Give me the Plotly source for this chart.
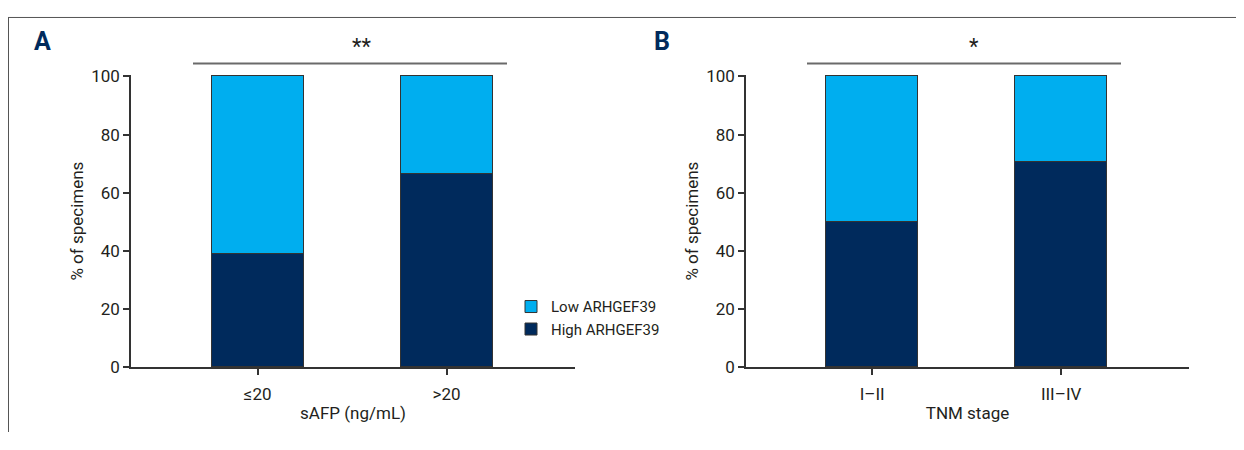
import plotly.graph_objects as go

cats_a = ["≤20", ">20"]
high_a = [39, 66.4]
low_a = [61, 33.6]

cats_b = ["I–II", "III–IV"]
high_b = [50.1, 70.6]
low_b = [49.9, 29.4]

y_ticks = [0, 20, 40, 60, 80, 100]
series_names = ["High ARHGEF39", "Low ARHGEF39"]
sig_a = "**"
sig_b = "*"

LIGHT = "#00AEEF"
DARK = "#002A5C"
EDGE = "#333333"
TXT = "#231F20"
FONT = "Liberation Sans Narrow, Arial Narrow, Roboto, sans-serif"

OFF = 8
W, H = 1244 - 2 * OFF, 450 - 2 * OFF
# measured mapping of figure pixels to the photographed picture
Y0, YS = 15.5, 0.957


def px(x):
    return (x - OFF) / W


def py(y):
    return 1 - ((y - Y0) / YS) / H


fig = go.Figure()

fig.add_trace(go.Bar(x=cats_a, y=high_a, name=series_names[0],
                     marker=dict(color=DARK, line=dict(color=EDGE, width=1)),
                     width=0.487, xaxis="x", yaxis="y"))
fig.add_trace(go.Bar(x=cats_a, y=low_a, name=series_names[1],
                     marker=dict(color=LIGHT, line=dict(color=EDGE, width=1)),
                     width=0.487, xaxis="x", yaxis="y"))
fig.add_trace(go.Bar(x=cats_b, y=high_b, name=series_names[0],
                     marker=dict(color=DARK, line=dict(color=EDGE, width=1)),
                     width=0.487, xaxis="x2", yaxis="y2", showlegend=False))
fig.add_trace(go.Bar(x=cats_b, y=low_b, name=series_names[1],
                     marker=dict(color=LIGHT, line=dict(color=EDGE, width=1)),
                     width=0.487, xaxis="x2", yaxis="y2", showlegend=False))

ydom = [py(366), py(73.5)]
axis_common = dict(showgrid=False, zeroline=False, showline=True, linecolor=EDGE, linewidth=1.5,
                   tickfont=dict(family=FONT, size=17, color=TXT), ticks="outside", tickcolor=EDGE,
                   ticklen=6, tickwidth=1.5)
title_font = dict(family=FONT, size=17, color=TXT)

fig.update_layout(
    width=W, height=H, margin=dict(l=0, r=0, t=0, b=0),
    paper_bgcolor="white", plot_bgcolor="white",
    barmode="stack", bargap=0,
    font=dict(family=FONT, color=TXT, size=16),
    xaxis=dict(domain=[px(131), px(575)], range=[-0.671, 1.680], type="category", anchor="y",
               ticklabelstandoff=5,
               title=dict(text="sAFP (ng/mL)", font=title_font, standoff=4), **axis_common),
    yaxis=dict(domain=ydom, range=[0, 100.5], tickvals=y_ticks, anchor="x",
               title=dict(text="% of specimens", font=title_font, standoff=3), **axis_common),
    xaxis2=dict(domain=[px(746), px(1189)], range=[-0.668, 1.677], type="category", anchor="y2",
                ticklabelstandoff=5,
                title=dict(text="TNM stage", font=title_font, standoff=4), **axis_common),
    yaxis2=dict(domain=ydom, range=[0, 100.5], tickvals=y_ticks, anchor="x2",
                title=dict(text="% of specimens", font=title_font, standoff=3), **axis_common),
    legend=dict(x=px(511), y=py(289), xanchor="left", yanchor="top", traceorder="reversed",
                font=dict(family=FONT, size=15, color=TXT), bgcolor="rgba(0,0,0,0)",
                itemwidth=30, tracegroupgap=0),
    showlegend=True,
)

# significance lines
fig.add_shape(type="line", xref="paper", yref="paper", x0=px(193), x1=px(507), y0=py(62), y1=py(62),
              line=dict(color="#6a6a6a", width=2))
fig.add_shape(type="line", xref="paper", yref="paper", x0=px(807), x1=px(1121), y0=py(62), y1=py(62),
              line=dict(color="#6a6a6a", width=2))
fig.add_annotation(text=sig_a, xref="paper", yref="paper", x=px(361), y=py(45), showarrow=False,
                   xanchor="center", yanchor="middle", font=dict(family=FONT, size=22, color=TXT))
fig.add_annotation(text=sig_b, xref="paper", yref="paper", x=px(974), y=py(45), showarrow=False,
                   xanchor="center", yanchor="middle", font=dict(family=FONT, size=22, color=TXT))

# panel letters
fig.add_annotation(text="<b>A</b>", xref="paper", yref="paper", x=px(42), y=py(40), showarrow=False,
                   xanchor="center", yanchor="middle", font=dict(family=FONT, size=25, color=DARK))
fig.add_annotation(text="<b>B</b>", xref="paper", yref="paper", x=px(662), y=py(40), showarrow=False,
                   xanchor="center", yanchor="middle", font=dict(family=FONT, size=25, color=DARK))

# frame
fig.add_shape(type="line", xref="paper", yref="paper", x0=0, x1=1, y0=1 - 0.5 / H, y1=1 - 0.5 / H,
              line=dict(color="#555555", width=1))
fig.add_shape(type="line", xref="paper", yref="paper", x0=px(8.5), x1=px(8.5), y0=1 - 0.5 / H, y1=0,
              line=dict(color="#555555", width=1))

fig.write_html("out.html")
